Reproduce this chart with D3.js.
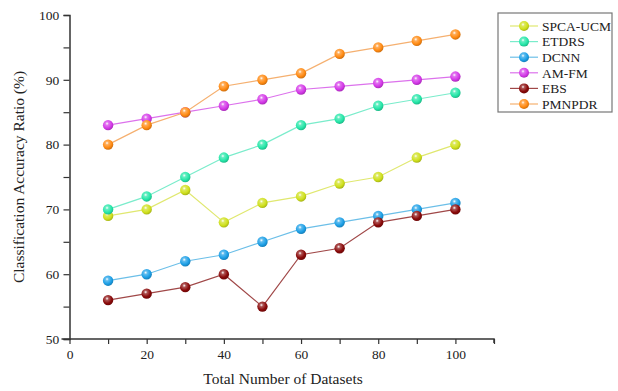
<!DOCTYPE html>
<html>
<head>
<meta charset="utf-8">
<script src="https://cdn.jsdelivr.net/npm/d3@7"></script>
<style>
  body { margin: 0; background: #fff; }
  text { font-family: "Liberation Serif", "Times New Roman", serif; }
</style>
</head>
<body>
<svg id="chart"></svg>
<script>
const xValues = [10, 20, 30, 40, 50, 60, 70, 80, 90, 100];
const seriesNames = ["SPCA-UCM", "ETDRS", "DCNN", "AM-FM", "EBS", "PMNPDR"];
const spcaUcm = [69, 70, 73, 68, 71, 72, 74, 75, 78, 80];
const etdrs = [70, 72, 75, 78, 80, 83, 84, 86, 87, 88];
const dcnn = [59, 60, 62, 63, 65, 67, 68, 69, 70, 71];
const amFm = [83, 84, 85, 86, 87, 88.5, 89, 89.5, 90, 90.5];
const ebs = [56, 57, 58, 60, 55, 63, 64, 68, 69, 70];
const pmnpdr = [80, 83, 85, 89, 90, 91, 94, 95, 96, 97];
const xTicks = [0, 20, 40, 60, 80, 100];
const yTicks = [50, 60, 70, 80, 90, 100];

const allValues = [spcaUcm, etdrs, dcnn, amFm, ebs, pmnpdr];
const markColors = ["#cfe01c", "#25e6a8", "#1c9fe6", "#d438e8", "#8a0a0a", "#ff8a12"];
const lineColors = ["#e0e870", "#7aeccb", "#6cbfe8", "#dc72ec", "#a04848", "#f5b070"];

const W = 618, H = 391;
const svg = d3.select("#chart").attr("width", W).attr("height", H);

const x = d3.scaleLinear().domain([0, 110]).range([69.5, 494]);
const y = d3.scaleLinear().domain([50, 100]).range([339, 15]);

// sphere gradients
const defs = svg.append("defs");
markColors.forEach((c, i) => {
  const g = defs.append("radialGradient")
    .attr("id", "ball" + i)
    .attr("cx", "40%").attr("cy", "35%").attr("r", "65%");
  g.append("stop").attr("offset", "0%").attr("stop-color", "#fff");
  g.append("stop").attr("offset", "25%").attr("stop-color", d3.interpolateRgb(c, "#fff")(0.3));
  g.append("stop").attr("offset", "70%").attr("stop-color", c);
  g.append("stop").attr("offset", "100%").attr("stop-color", d3.color(c).darker(0.6));
});

// axes
const axisColor = "#333";
const xAxis = svg.append("g").attr("transform", `translate(0,${y(50)})`)
  .call(d3.axisBottom(x).tickValues(d3.range(0, 111, 10)).tickSize(5)
    .tickFormat(d => xTicks.includes(d) ? d : ""));
const yAxis = svg.append("g").attr("transform", `translate(${x(0)},0)`)
  .call(d3.axisLeft(y).tickValues(d3.range(50, 101, 5)).tickSize(6)
    .tickFormat(d => yTicks.includes(d) ? d : ""));
[xAxis, yAxis].forEach(a => {
  a.attr("font-family", null);
  a.select(".domain").attr("stroke", axisColor).attr("stroke-width", 1.5);
  a.selectAll(".tick line").attr("stroke", axisColor).attr("stroke-width", 1.2);
  a.selectAll(".tick text").attr("fill", "#222").style("font-size", "13.5px");
});
xAxis.select(".domain").attr("d", `M${x(0) - 8},0H${x(110)}V4`);
xAxis.selectAll(".tick text").attr("dy", "0.9em");
yAxis.selectAll(".tick text").attr("dx", "-0.1em");

// axis titles
svg.append("text").attr("x", 283).attr("y", 384).attr("text-anchor", "middle")
  .style("font-size", "15.5px").attr("fill", "#222").text("Total Number of Datasets");
svg.append("text").attr("transform", `translate(24,${y(75)}) rotate(-90)`)
  .attr("text-anchor", "middle").style("font-size", "15.5px").attr("fill", "#222")
  .text("Classification Accuracy Ratio (%)");

// lines and markers
const line = d3.line().x((d, i) => x(xValues[i])).y(d => y(d));
allValues.forEach((vals, i) => {
  svg.append("path").datum(vals).attr("d", line)
    .attr("fill", "none").attr("stroke", lineColors[i]).attr("stroke-width", 1.2);
});
allValues.forEach((vals, i) => {
  svg.append("g").selectAll("circle").data(vals).join("circle")
    .attr("cx", (d, j) => x(xValues[j])).attr("cy", d => y(d)).attr("r", 5.2)
    .attr("fill", `url(#ball${i})`);
});

// legend
const lg = svg.append("g").attr("transform", "translate(498,13)");
lg.append("rect").attr("width", 114).attr("height", 99)
  .attr("fill", "#fff").attr("stroke", "#777").attr("stroke-width", 1.2);
seriesNames.forEach((name, i) => {
  const ry = 13 + i * 15.6;
  lg.append("line").attr("x1", 12).attr("x2", 40).attr("y1", ry).attr("y2", ry)
    .attr("stroke", lineColors[i]).attr("stroke-width", 1.2);
  lg.append("circle").attr("cx", 26).attr("cy", ry).attr("r", 5)
    .attr("fill", `url(#ball${i})`);
  lg.append("text").attr("x", 44).attr("y", ry).attr("dy", "0.35em")
    .style("font-size", "13.5px").attr("fill", "#222").text(name);
});
</script>
</body>
</html>
